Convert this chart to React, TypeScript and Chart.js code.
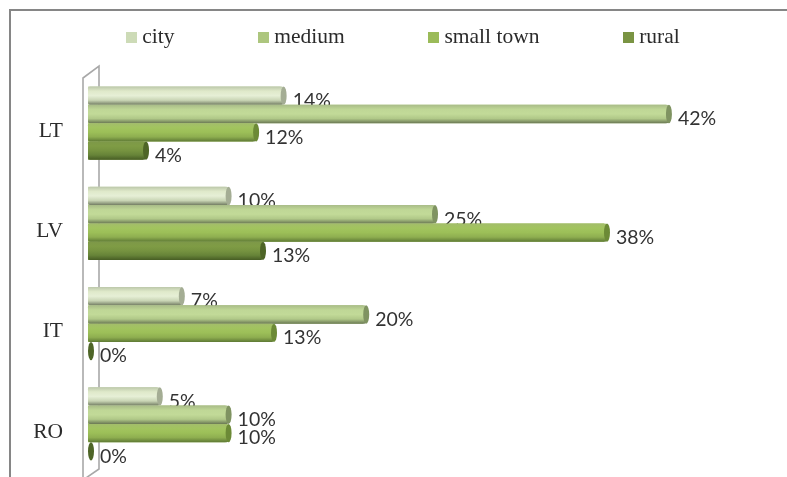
import React, { useEffect, useRef } from "react";
import { Chart, registerables } from "chart.js";

Chart.register(...registerables);

const categories = ["LT", "LV", "IT", "RO"];
const seriesNames = ["city", "medium", "small town", "rural"];
const city = [14, 10, 6.6, 5];
const medium = [42, 25, 20, 10];
const smallTown = [12, 37.5, 13.3, 10];
const rural = [4, 12.5, 0, 0];
const seriesValues = [city, medium, smallTown, rural];

const legendColors = ["#cddbb7", "#adc67e", "#9bbb59", "#7a9443"];
const capColors = ["#a4ad94", "#7f9361", "#6c8a36", "#4e6527"];
const shades = [
  ["#bcc8aa", "#dfe9ca", "#e6efd6", "#c9d5b5", "#727c62"],
  ["#a9bc88", "#bfd796", "#c2da98", "#b0c888", "#6c7a55"],
  ["#a3bd6b", "#a2c45f", "#9cbf58", "#8eae50", "#5f7a35"],
  ["#7d9848", "#7f9c45", "#769340", "#668338", "#475d24"],
];

function swatch(color: string) {
  const c = document.createElement("canvas");
  c.width = 11;
  c.height = 11;
  const g = c.getContext("2d")!;
  g.fillStyle = color;
  g.fillRect(0, 0, 11, 11);
  return c;
}

const PLOT_TOP = 73;
const PLOT_BOTTOM = 474;

const decor = {
  id: "decor",
  afterLayout(chart: any) {
    const l = chart.legend;
    l.left = 42.5;
    l.right = 900;
    l.top = -62.5;
    const y = chart.scales.y;
    y.top = PLOT_TOP;
    y.bottom = PLOT_BOTTOM;
    y.height = PLOT_BOTTOM - PLOT_TOP;
    y.configure();
    chart.chartArea.top = PLOT_TOP;
    chart.chartArea.bottom = PLOT_BOTTOM;
    chart.chartArea.height = PLOT_BOTTOM - PLOT_TOP;
  },
  beforeDraw(chart: any) {
    const { ctx, width, height } = chart;
    ctx.save();
    ctx.fillStyle = "#ffffff";
    ctx.fillRect(0, 0, width, height);
    ctx.strokeStyle = "#868686";
    ctx.lineWidth = 2;
    ctx.beginPath();
    ctx.moveTo(10, height);
    ctx.lineTo(10, 10);
    ctx.lineTo(width, 10);
    ctx.stroke();
    ctx.restore();
  },
  beforeDatasetsDraw(chart: any) {
    const { ctx, chartArea } = chart;
    const fx = chartArea.left - 5;
    const bx = chartArea.left + 11;
    ctx.save();
    ctx.strokeStyle = "#a8a8a8";
    ctx.lineWidth = 1.6;
    ctx.beginPath();
    ctx.moveTo(fx, chartArea.bottom + 6);
    ctx.lineTo(fx, chartArea.top + 5);
    ctx.lineTo(bx, chartArea.top - 7);
    ctx.lineTo(bx, chartArea.bottom - 5);
    ctx.lineTo(fx, chartArea.bottom + 6);
    ctx.stroke();
    ctx.restore();
  },
  afterDatasetsDraw(chart: any) {
    const { ctx } = chart;
    ctx.save();
    const n = chart.data.labels.length;
    for (let i = 0; i < n; i++) {
      seriesValues.forEach((vals, d) => {
        const el = chart.getDatasetMeta(d).data[i];
        const h = el.height;
        const top = el.y - h / 2;
        const end = el.x + 3;
        if (vals[i] > 0) {
          const g = ctx.createLinearGradient(0, top, 0, top + h);
          shades[d].forEach((c, k) => g.addColorStop(k / (shades[d].length - 1), c));
          ctx.fillStyle = g;
          ctx.beginPath();
          ctx.roundRect(el.base, top, end - el.base, h, 2);
          ctx.fill();
        }
        ctx.fillStyle = capColors[d];
        ctx.beginPath();
        ctx.ellipse(end, el.y, 3, h / 2, 0, 0, Math.PI * 2);
        ctx.fill();
        ctx.fillStyle = "#333333";
        ctx.font = "19.5px Lato";
        ctx.textAlign = "left";
        ctx.textBaseline = "middle";
        ctx.fillText(`${Math.round(vals[i])}%`, end + 9, el.y + 5);
      });
    }
    ctx.restore();
  },
};

export default function App() {
  const ref = useRef<HTMLCanvasElement>(null);
  useEffect(() => {
    const swatches = legendColors.map(swatch);
    const chart = new Chart(ref.current!, {
      type: "bar",
      data: {
        labels: categories,
        datasets: seriesNames.map((name, i) => ({
          label: name,
          data: seriesValues[i],
          backgroundColor: legendColors[i],
          categoryPercentage: 0.73,
          barPercentage: 1,
        })),
      },
      plugins: [decor],
      options: {
        indexAxis: "y",
        animation: false,
        responsive: false,
        layout: { padding: { left: 0, right: 11, top: 0, bottom: 3 } },
        scales: {
          x: { display: false, min: 0, max: 50 },
          y: {
            grid: { display: false, drawTicks: false },
            border: { display: false },
            afterFit: (s: any) => {
              s.width = 88;
            },
            ticks: {
              padding: 25,
              labelOffset: 8,
              color: "#2b2b2b",
              font: { family: "'Liberation Serif'", size: 21.5 },
            },
          },
        },
        plugins: {
          tooltip: { enabled: false },
          legend: {
            position: "top",
            align: "start",
            maxHeight: 72,
            labels: {
              usePointStyle: true,
              pointStyleWidth: 0.01,
              padding: 89,
              color: "#2b2b2b",
              font: { family: "'Liberation Serif'", size: 21.5 },
              generateLabels: (c: any) =>
                Chart.defaults.plugins.legend.labels
                  .generateLabels(c)
                  .map((l: any, i: number) => ({ ...l, pointStyle: swatches[i] })),
            },
          },
        },
      },
    } as any);
    return () => chart.destroy();
  }, []);
  return (
    <canvas
      ref={ref}
      width={787}
      height={477}
      style={{ position: "fixed", left: 0, top: 0, width: 787, height: 477 }}
    />
  );
}
